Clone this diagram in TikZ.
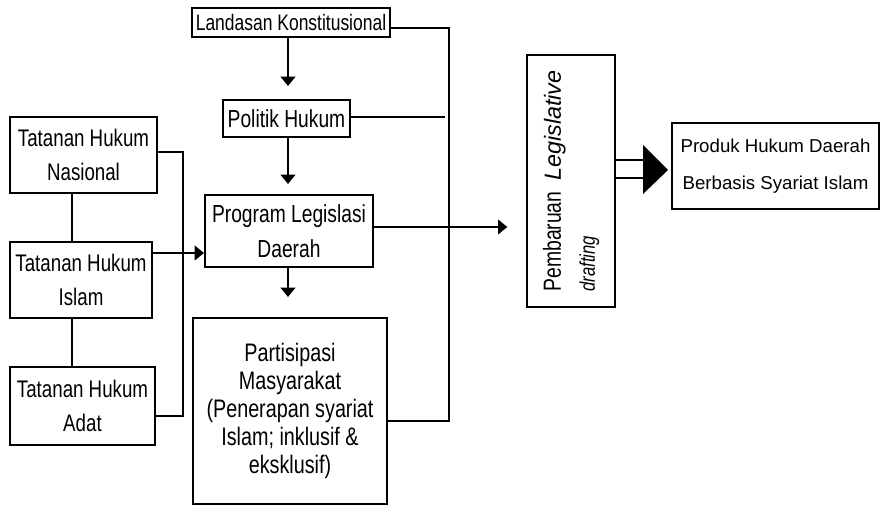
\documentclass[tikz,border=0pt]{standalone}
\usepackage{fontspec}
\setmainfont{Liberation Sans}[FakeStretch=0.78]
\newfontfamily\wideit{Liberation Sans}
\usetikzlibrary{arrows.meta}
\begin{document}
\begin{tikzpicture}[x=0.75pt,y=-0.75pt,
  box/.style={draw, line width=1.5pt, align=center, inner sep=0pt, font=\fontsize{18}{25}\selectfont},
  ln/.style={line width=1.5pt},
  arr/.style={ln, -{Triangle[length=7pt,width=11pt]}}]
\useasboundingbox (0,0) rectangle (880,506);

% left column
\node[box, minimum width=110.25pt, minimum height=57pt] (nas) at (83.5,155) {Tatanan Hukum\\Nasional};
\node[box, minimum width=106.5pt, minimum height=57pt] (isl) at (81,280) {Tatanan Hukum\\Islam};
\node[box, minimum width=108.75pt, minimum height=58.5pt] (adat) at (82.5,406) {Tatanan Hukum\\Adat};

% middle column
\node[box, minimum width=148.5pt, minimum height=21.75pt, font=\fontsize{16.8}{20}\selectfont] (land) at (291,22.5) {Landasan Konstitusional};
\node[box, minimum width=95.25pt, minimum height=27.75pt, font=\fontsize{18.5}{20}\selectfont] (pol) at (286.5,118.5) {Politik Hukum};
\node[box, minimum width=126pt, minimum height=54pt, font=\fontsize{18.5}{26}\selectfont] (prog) at (289,231) {Program Legislasi\\Daerah};
\node[box, minimum width=145.5pt, minimum height=139.5pt, font=\fontsize{19}{21}\selectfont] (part) at (290,411)
  {Partisipasi\\Masyarakat\\(Penerapan syariat\\Islam; inklusif \&\\eksklusif)};

% right
\node[box, rotate=90, minimum width=189pt, minimum height=66pt, align=left, font=\fontsize{18.6}{25.5}\selectfont] (pemb) at (571,181)
  {Pembaruan\ \ {\wideit\itshape\fontsize{17.5}{25.5}\selectfont Legislative}\\{\itshape\fontsize{16}{25.5}\selectfont drafting}};
\node[box, minimum width=155.25pt, minimum height=64.5pt, font=\wideit\fontsize{14}{28}\selectfont] (prod) at (775.5,166)
  {Produk Hukum Daerah\\Berbasis Syariat Islam};

% coordinates
\coordinate (lx) at (72,0);
\coordinate (b1) at (183,152);
\coordinate (b2) at (183,416);
\coordinate (a1) at (0,253);
\coordinate (mx) at (288,0);
\coordinate (r1) at (449,28);
\coordinate (r2) at (449,421);
\coordinate (pe) at (445,117);
\coordinate (pr) at (0,227);
\coordinate (d1) at (645,160);
\coordinate (d2) at (645,178);
\coordinate (t1) at (643,145);
\coordinate (t2) at (668,170);
\coordinate (t3) at (643,194);

% left connectors
\draw[ln] (nas.south -| lx) -- (isl.north -| lx);
\draw[ln] (isl.south -| lx) -- (adat.north -| lx);
\draw[ln] (nas.east |- b1) -- (b1) -- (b2) -- (adat.east |- b2);
\draw[arr] (isl.east |- a1) -- (prog.west |- a1);

% vertical flow
\draw[arr, shorten >=9.75pt] (land.south -| mx) -- (pol.north -| mx);
\draw[arr, shorten >=7.5pt] (pol.south -| mx) -- (prog.north -| mx);
\draw[arr, shorten >=15pt] (prog.south -| mx) -- (part.north -| mx);

% right bracket
\draw[ln] (land.east |- r1) -- (r1) -- (r2) -- (part.east |- r2);
\draw[ln] (pol.east |- pe) -- (pe);
\draw[arr, shorten >=14pt] (prog.east |- pr) -- (pemb.north |- pr);

% double arrow
\draw[ln] (pemb.south |- d1) -- (d1);
\draw[ln] (pemb.south |- d2) -- (d2);
\fill (t1) -- (t2) -- (t3) -- cycle;
\end{tikzpicture}
\end{document}
